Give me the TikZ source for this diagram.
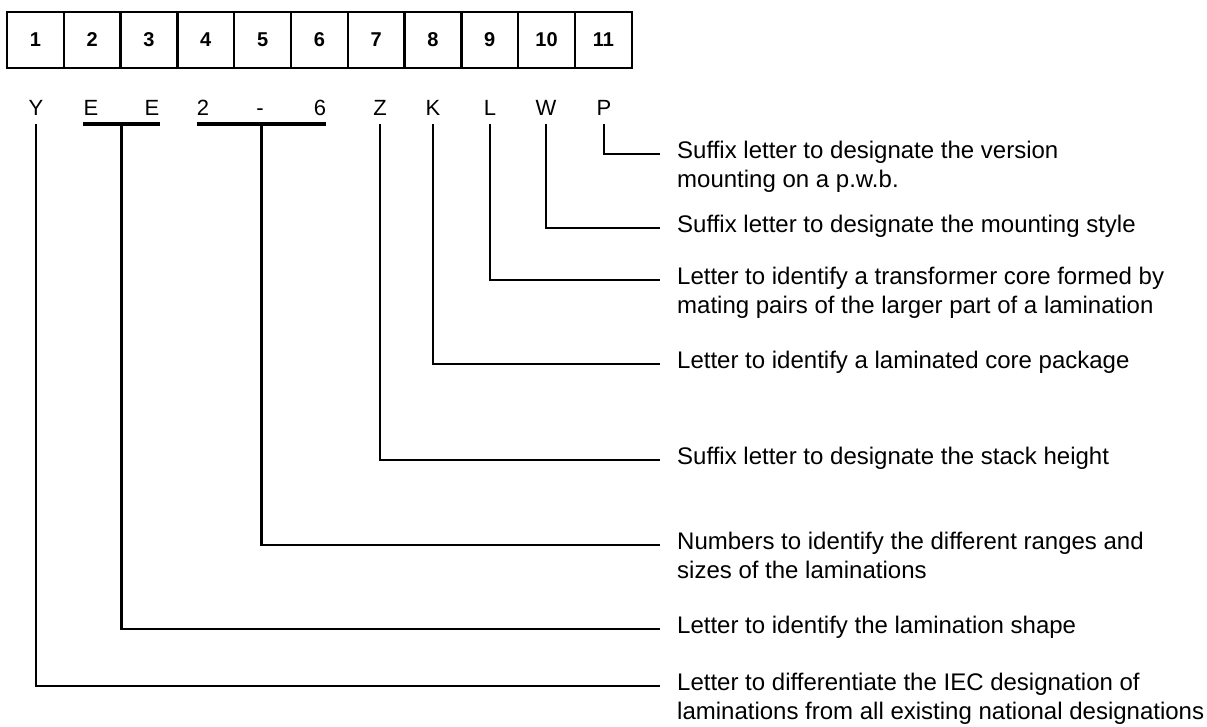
\documentclass[tikz,border=0pt]{standalone}
\usepackage{fontspec}
\setmainfont{Liberation Sans}
\usetikzlibrary{calc}
\begin{document}
\begin{tikzpicture}[x=1pt,y=-1pt,
  cell/.style={draw, line width=2.4pt, minimum width=56.8pt, minimum height=56pt, inner sep=0pt, font=\fontsize{20}{24}\selectfont\bfseries},
  code/.style={inner xsep=0pt, inner ysep=0pt, text depth=9pt, anchor=base, font=\fontsize{22}{26}\selectfont},
  lbl/.style={anchor=west, inner xsep=2pt, inner ysep=0pt, text height=0.8em, text depth=0pt, font=\fontsize{24}{28}\selectfont},
  conn/.style={line width=2.4pt, line join=miter},
  uline/.style={line width=3.8pt}]
\useasboundingbox (0,0) rectangle (1207,726);
% numbered cells
\foreach \i in {1,...,11} {
  \node[cell] (c\i) at ({7+56.8*(\i-0.5)},40) {\i};
}
% code letters
\node[code] (Y) at (36,115) {Y};
\node[code] (E1) at (91,115) {E};
\node[code] (E2) at (152,115) {E};
\node[code] (N1) at (203,115) {2};
\node[code] (D) at (260,115) {-};
\node[code] (N2) at (320,115) {6};
\node[code] (Z) at (380,115) {Z};
\node[code] (K) at (433,115) {K};
\node[code] (L) at (490,115) {L};
\node[code] (W) at (546,115) {W};
\node[code] (P) at (604,115) {P};
% underlines
\draw[uline] (E1.south west) -- (E2.south east);
\draw[uline] (N1.south west) -- (N2.south east);
\coordinate (mE) at ($(E1.south west)!0.5!(E2.south east)$);
\coordinate (mN) at ($(N1.south west)!0.5!(N2.south east)$);
% labels
\node[lbl] (tP) at (675,154) {Suffix letter to designate the version};
\node[lbl] (tP2) at (675,183) {mounting on a p.w.b.};
\node[lbl] (tW) at (675,228) {Suffix letter to designate the mounting style};
\node[lbl] (tL) at (675,280) {Letter to identify a transformer core formed by};
\node[lbl] (tL2) at (675,309) {mating pairs of the larger part of a lamination};
\node[lbl] (tK) at (675,364) {Letter to identify a laminated core package};
\node[lbl] (tZ) at (675,460) {Suffix letter to designate the stack height};
\node[lbl] (tN) at (675,545) {Numbers to identify the different ranges and};
\node[lbl] (tN2) at (675,574) {sizes of the laminations};
\node[lbl] (tE) at (675,629) {Letter to identify the lamination shape};
\node[lbl] (tY) at (675,686) {Letter to differentiate the IEC designation of};
\node[lbl] (tY2) at (675,715) {laminations from all existing national designations};
% connectors
\draw[conn] (P.south) |- ([xshift=-15pt]tP.west);
\draw[conn] (W.south) |- ([xshift=-15pt]tW.west);
\draw[conn] (L.south) |- ([xshift=-15pt]tL.west);
\draw[conn] (K.south) |- ([xshift=-15pt]tK.west);
\draw[conn] (Z.south) |- ([xshift=-15pt]tZ.west);
\draw[conn] (mN) |- ([xshift=-15pt]tN.west);
\draw[conn] (mE) |- ([xshift=-15pt]tE.west);
\draw[conn] (Y.south) |- ([xshift=-15pt]tY.west);
\end{tikzpicture}
\end{document}
